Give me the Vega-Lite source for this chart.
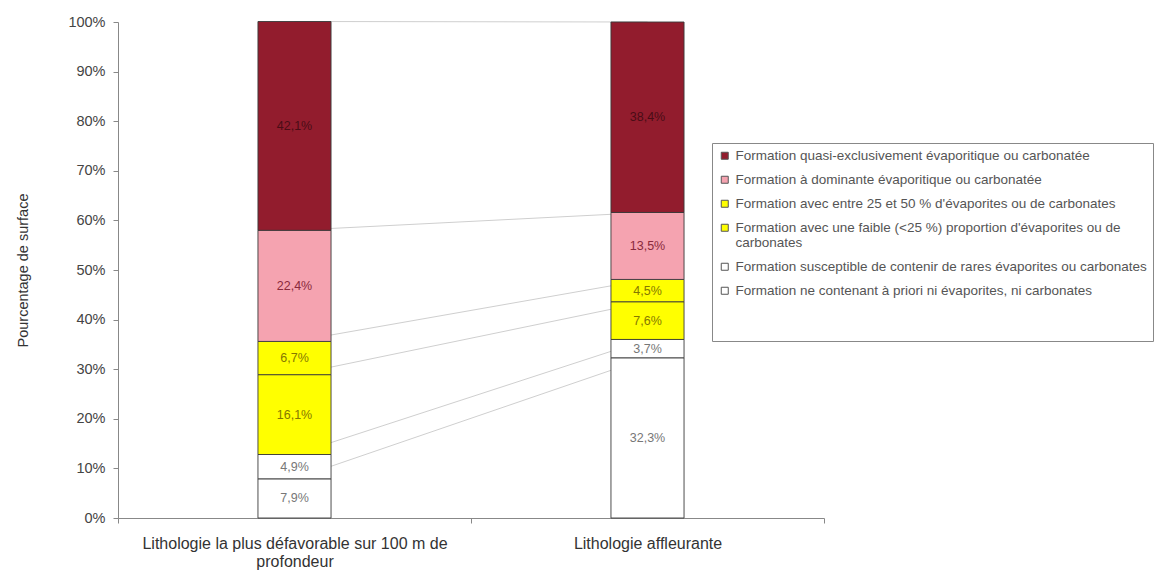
{
  "$schema": "https://vega.github.io/schema/vega-lite/v6.json",
  "width": 706,
  "height": 496,
  "autosize": {"type": "none"},
  "padding": {"left": 118, "top": 22, "right": 332, "bottom": 53},
  "background": "white",
  "config": {
    "font": "Liberation Sans",
    "view": {"stroke": null},
    "locale": {"number": {"decimal": ",", "thousands": " ", "grouping": [3], "currency": ["", " €"]}},
    "axisY": {
      "titleFontSize": 14.5, "titleFontWeight": "normal", "titleColor": "#333", "titlePadding": 37,
      "labelFontSize": 14.5, "labelColor": "#444", "labelPadding": 8,
      "tickSize": 5, "tickColor": "#888", "domainColor": "#888", "grid": false
    }
  },
  "data": {
    "values": [
      {"cat": "Lithologie la plus défavorable sur 100 m de profondeur", "serie": "Formation ne contenant à priori ni évaporites, ni carbonates", "ord": 1, "value": 0.079},
      {"cat": "Lithologie la plus défavorable sur 100 m de profondeur", "serie": "Formation susceptible de contenir de rares évaporites ou carbonates", "ord": 2, "value": 0.049},
      {"cat": "Lithologie la plus défavorable sur 100 m de profondeur", "serie": "Formation avec une faible (<25 %) proportion d'évaporites ou de carbonates", "ord": 3, "value": 0.161},
      {"cat": "Lithologie la plus défavorable sur 100 m de profondeur", "serie": "Formation avec entre 25 et 50 % d'évaporites ou de carbonates", "ord": 4, "value": 0.067},
      {"cat": "Lithologie la plus défavorable sur 100 m de profondeur", "serie": "Formation à dominante évaporitique ou carbonatée", "ord": 5, "value": 0.224},
      {"cat": "Lithologie la plus défavorable sur 100 m de profondeur", "serie": "Formation quasi-exclusivement évaporitique ou carbonatée", "ord": 6, "value": 0.421},
      {"cat": "Lithologie affleurante", "serie": "Formation ne contenant à priori ni évaporites, ni carbonates", "ord": 1, "value": 0.323},
      {"cat": "Lithologie affleurante", "serie": "Formation susceptible de contenir de rares évaporites ou carbonates", "ord": 2, "value": 0.037},
      {"cat": "Lithologie affleurante", "serie": "Formation avec une faible (<25 %) proportion d'évaporites ou de carbonates", "ord": 3, "value": 0.076},
      {"cat": "Lithologie affleurante", "serie": "Formation avec entre 25 et 50 % d'évaporites ou de carbonates", "ord": 4, "value": 0.045},
      {"cat": "Lithologie affleurante", "serie": "Formation à dominante évaporitique ou carbonatée", "ord": 5, "value": 0.135},
      {"cat": "Lithologie affleurante", "serie": "Formation quasi-exclusivement évaporitique ou carbonatée", "ord": 6, "value": 0.384}
    ]
  },
  "transform": [
    {"stack": "value", "groupby": ["cat"], "sort": [{"field": "ord", "order": "ascending"}], "as": ["y0", "y1"]},
    {"calculate": "(datum.y0 + datum.y1) / 2", "as": "mid"}
  ],
  "encoding": {
    "x": {
      "field": "cat", "type": "nominal",
      "sort": ["Lithologie la plus défavorable sur 100 m de profondeur", "Lithologie affleurante"],
      "scale": {"paddingInner": 0, "paddingOuter": 0},
      "axis": {
        "title": null, "labelAngle": 0, "labelAlign": "center", "labelBaseline": "top", "labelFontSize": 16, "labelColor": "#333", "labelLimit": 0,
        "labelPadding": 12, "tickBand": "extent", "tickSize": 5, "tickColor": "#888", "domainColor": "#888",
        "labelExpr": "datum.label == 'Lithologie la plus défavorable sur 100 m de profondeur' ? ['Lithologie la plus défavorable sur 100 m de', 'profondeur'] : datum.label"
      }
    }
  },
  "layer": [
    {
      "mark": {"type": "line", "color": "#cfcfcf", "strokeWidth": 1},
      "encoding": {
        "y": {
          "field": "y1", "type": "quantitative",
          "scale": {"domain": [0, 1], "nice": false},
          "axis": {"title": "Pourcentage de surface", "values": [0, 0.1, 0.2, 0.3, 0.4, 0.5, 0.6, 0.7, 0.8, 0.9, 1], "format": ".0%"}
        },
        "detail": {"field": "serie"}
      }
    },
    {
      "mark": {"type": "bar", "stroke": "#3a3a3a", "strokeWidth": 0.9, "width": {"band": 0.207}},
      "encoding": {
        "y": {
          "field": "y0", "type": "quantitative",
          "axis": {"title": "Pourcentage de surface", "values": [0, 0.1, 0.2, 0.3, 0.4, 0.5, 0.6, 0.7, 0.8, 0.9, 1], "format": ".0%"}
        },
        "y2": {"field": "y1"},
        "color": {
          "field": "serie", "type": "nominal",
          "scale": {
            "domain": [
              "Formation quasi-exclusivement évaporitique ou carbonatée",
              "Formation à dominante évaporitique ou carbonatée",
              "Formation avec entre 25 et 50 % d'évaporites ou de carbonates",
              "Formation avec une faible (<25 %) proportion d'évaporites ou de carbonates",
              "Formation susceptible de contenir de rares évaporites ou carbonates",
              "Formation ne contenant à priori ni évaporites, ni carbonates"
            ],
            "range": ["#921c2d", "#f5a3b0", "#ffff00", "#ffff00", "#ffffff", "#ffffff"]
          },
          "legend": {
            "title": " ", "titleOrient": "bottom", "titleFontSize": 38, "titlePadding": 0,
            "orient": "none", "legendX": 594, "legendY": 121,
            "strokeColor": "#888", "fillColor": "white", "padding": 6,
            "symbolType": "square", "symbolSize": 49, "symbolStrokeColor": "#555", "symbolStrokeWidth": 1,
            "labelFontSize": 13.5, "labelColor": "#555", "labelLimit": 0, "labelOffset": 4, "rowPadding": 9,
            "labelExpr": "indexof(datum.label, '<25') > 0 ? [substring(datum.label, 0, 63), substring(datum.label, 64)] : datum.label"
          }
        }
      }
    },
    {
      "mark": {"type": "text", "fontSize": 12.5, "baseline": "middle"},
      "encoding": {
        "y": {
          "field": "mid", "type": "quantitative",
          "axis": {"title": "Pourcentage de surface", "values": [0, 0.1, 0.2, 0.3, 0.4, 0.5, 0.6, 0.7, 0.8, 0.9, 1], "format": ".0%"}
        },
        "text": {"field": "value", "type": "quantitative", "format": ".1%"},
        "color": {
          "condition": [
            {"test": "datum.ord == 6", "value": "#4a0c16"},
            {"test": "datum.ord == 5", "value": "#8a2a3c"},
            {"test": "datum.ord == 3 || datum.ord == 4", "value": "#857800"}
          ],
          "value": "#777777"
        }
      }
    }
  ]
}
